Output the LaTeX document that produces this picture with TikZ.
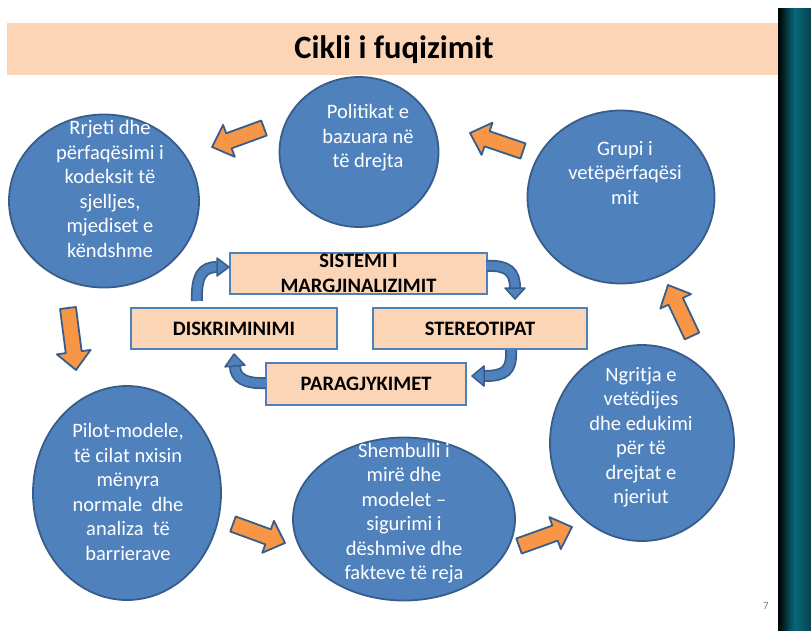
\documentclass[tikz,border=0pt]{standalone}
\usepackage{fontspec}
\setmainfont{Carlito}
\usetikzlibrary{calc, shapes.geometric}

\definecolor{slideblue}{HTML}{4F81BD}
\definecolor{slideedge}{HTML}{385D8A}
\definecolor{slidepeach}{HTML}{FBD5B5}
\definecolor{slideorange}{HTML}{F79646}
\definecolor{bandteal}{HTML}{0A7A90}

% fat orange arrow between two named points
\newcommand{\fatarrow}[2]{%
  \draw[fat] let \p1=($(#2)-(#1)$), \n1={atan2(\y1,\x1)}, \n2={veclen(\x1,\y1)} in
    [shift={(#1)}, rotate=\n1]
    (0pt,-8pt) -- ({\n2*1pt-18pt},-8pt) -- ({\n2*1pt-18pt},-17pt) -- ({\n2*1pt},0pt)
    -- ({\n2*1pt-18pt},17pt) -- ({\n2*1pt-18pt},8pt) -- (0pt,8pt) -- cycle;}

\begin{document}
\begin{tikzpicture}[x=1pt, y=-1pt,
  bubble/.style={ellipse, draw=slideedge, line width=1.8pt, fill=slideblue, inner sep=0pt},
  bubbletext/.style={text=white, align=center, font=\fontsize{20.5}{24.5}\selectfont},
  box/.style={rectangle, draw=slideblue, line width=1.8pt, fill=slidepeach, inner sep=0pt,
    align=center, font=\bfseries\fontsize{20.5}{25}\selectfont},
  fat/.style={draw=slideedge, line width=1.8pt, fill=slideorange, line join=round},
  bendout/.style={draw=slideedge, line width=12pt},
  bendin/.style={draw=slideblue, line width=8.5pt},
  bendhead/.style={draw=slideedge, line width=1.5pt, fill=slideblue, line join=round}]

  % Fix the page size
  \useasboundingbox (0,0) rectangle (811,630);

  % Draw the title banner
  \fill[slidepeach] (7,23) rectangle (778,75);
  \node[font=\bfseries\fontsize{32.5}{38}\selectfont] (title) at (394,50) {Cikli i fuqizimit};

  % Draw the dark band on the right
  \shade[left color=black, right color=bandteal!55!black, middle color=bandteal!85!black] (778,8) rectangle (811,630);
  \node[text=gray, font=\fontsize{11}{13}\selectfont] (pagenum) at (766,606) {7};

  % Draw the six bubbles
  \node[bubble, minimum width=190pt, minimum height=173pt] (rrjeti) at (104,201) {};
  \node[bubbletext] (rrjetitxt) at (110,189) {Rrjeti dhe\\përfaqësimi i\\kodeksit të\\sjelljes,\\mjediset e\\këndshme};

  \node[bubble, minimum width=159pt, minimum height=150pt] (politikat) at (359,152) {};
  \node[bubbletext] (politikattxt) at (368,138) {Politikat e\\bazuara në\\të drejta};

  \node[bubble, minimum width=187pt, minimum height=173pt] (grupi) at (621,197) {};
  \node[bubbletext] (grupitxt) at (625,173) {Grupi i\\vetëpërfaqësi\\mit};

  \node[bubble, minimum width=188pt, minimum height=214pt] (pilot) at (127,493) {};
  \node[bubbletext] (pilottxt) at (128,492) {Pilot-modele,\\të cilat nxisin\\mënyra\\normale~ dhe\\analiza~ të\\barrierave};

  \node[bubble, minimum width=222pt, minimum height=163pt] (shembulli) at (404,519) {};
  \node[bubbletext] (shembullitxt) at (404,513) {Shembulli i\\mirë dhe\\modelet –\\sigurimi i\\dëshmive dhe\\fakteve të reja};

  \node[bubble, minimum width=184pt, minimum height=196pt] (ngritja) at (642,443) {};
  \node[bubbletext] (ngritjatxt) at (641,437) {Ngritja e\\vetëdijes\\dhe edukimi\\për të\\drejtat e\\njeriut};

  % Orange arrows round the ring
  \coordinate (a1) at (264,128); \coordinate (a2) at (212,147);
  \coordinate (b1) at (523,151); \coordinate (b2) at (470,133);
  \coordinate (c1) at (68,308);  \coordinate (c2) at (76,370);
  \coordinate (d1) at (233,524); \coordinate (d2) at (285,543);
  \coordinate (e1) at (519,546); \coordinate (e2) at (572,527);
  \coordinate (f1) at (692,336); \coordinate (f2) at (668,285);
  \fatarrow{a1}{a2}
  \fatarrow{b1}{b2}
  \fatarrow{c1}{c2}
  \fatarrow{d1}{d2}
  \fatarrow{e1}{e2}
  \fatarrow{f1}{f2}

  % Draw the four boxes in the middle
  \node[box, minimum width=257pt, minimum height=41pt] (sistemi) at (358.5,273.5) {SISTEMI I\\MARGJINALIZIMIT};
  \node[box, minimum width=206pt, minimum height=41pt] (diskr) at (234,328.5) {DISKRIMINIMI};
  \node[box, minimum width=214pt, minimum height=41pt] (stereo) at (480,328.5) {STEREOTIPAT};
  \node[box, minimum width=200pt, minimum height=42pt] (paragj) at (366,384) {PARAGJYKIMET};

  % Blue bent arrows between the boxes
  \coordinate (s1) at (197,301); \coordinate (h1) at (217,267); \coordinate (t1) at (229,267);
  \coordinate (s2) at (487,266); \coordinate (h2) at (515,288); \coordinate (t2) at (515,299);
  \coordinate (s3) at (511,350); \coordinate (h3) at (484,376); \coordinate (t3) at (472,376);
  \coordinate (s4) at (266,383); \coordinate (h4) at (235,366); \coordinate (t4) at (234,354);

  \draw[bendout] (s1) .. controls (196,275) and (203,267) .. (h1);
  \draw[bendin] (s1) .. controls (196,275) and (203,267) .. (h1);
  \draw[bendhead] ($(h1)!9pt!90:(t1)$) -- (t1) -- ($(h1)!9pt!-90:(t1)$) -- cycle;

  \draw[bendout] (s2) .. controls (508,265) and (515,272) .. (h2);
  \draw[bendin] (s2) .. controls (508,265) and (515,272) .. (h2);
  \draw[bendhead] ($(h2)!10pt!90:(t2)$) -- (t2) -- ($(h2)!10pt!-90:(t2)$) -- cycle;

  \draw[bendout] (s3) .. controls (512,371) and (505,376) .. (h3);
  \draw[bendin] (s3) .. controls (512,371) and (505,376) .. (h3);
  \draw[bendhead] ($(h3)!10pt!90:(t3)$) -- (t3) -- ($(h3)!10pt!-90:(t3)$) -- cycle;

  \draw[bendout] (s4) .. controls (245,384) and (235,378) .. (h4);
  \draw[bendin] (s4) .. controls (245,384) and (235,378) .. (h4);
  \draw[bendhead] ($(h4)!10pt!90:(t4)$) -- (t4) -- ($(h4)!10pt!-90:(t4)$) -- cycle;

\end{tikzpicture}
\end{document}
